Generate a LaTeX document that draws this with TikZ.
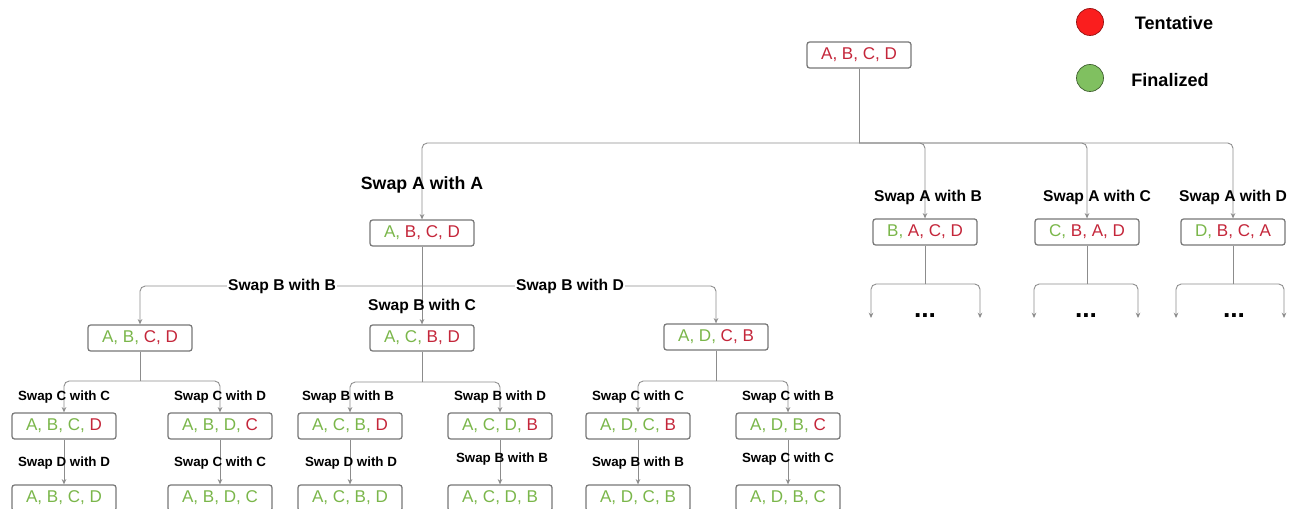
\documentclass[tikz,border=0pt]{standalone}
\usepackage{fontspec}
\setmainfont{Liberation Sans}
\usetikzlibrary{arrows.meta}
\definecolor{tred}{RGB}{196,38,58}
\definecolor{tgreen}{RGB}{122,182,74}
\definecolor{lgray}{RGB}{118,118,118}
\definecolor{cgray}{RGB}{140,140,140}
\definecolor{legred}{RGB}{250,30,30}
\definecolor{leggreen}{RGB}{128,192,96}
\newcommand\Gx[1]{\textcolor{tgreen}{#1}}
\newcommand\Rx[1]{\textcolor{tred}{#1}}
\begin{document}
\begin{tikzpicture}[x=0.02cm,y=-0.02cm,
  box/.style={draw=lgray, line width=0.7pt, rounded corners=1.5pt, minimum width=2.08cm, minimum height=0.52cm, inner sep=0pt, font=\fontsize{9.7}{11}\selectfont},
  conn/.style={draw=cgray, line width=0.5pt, rounded corners=3pt},
  arr/.style={conn, -{Stealth[length=3pt,width=2.6pt]}},
  lbig/.style={font=\bfseries\fontsize{10.1}{12}\selectfont, inner sep=1pt},
  lmid/.style={font=\bfseries\fontsize{8.9}{11}\selectfont, inner sep=1pt},
  lsmall/.style={font=\bfseries\fontsize{7.6}{9}\selectfont, inner sep=1pt},
  onl/.style={fill=white, inner sep=0.5pt},
  legtxt/.style={font=\bfseries\fontsize{10.3}{12}\selectfont, inner sep=0pt},
  dots/.style={font=\bfseries\fontsize{15}{15}\selectfont, inner sep=0pt}
]
\useasboundingbox (0,0) rectangle (1300,509);

% legend
\node[circle, fill=legred, draw=legred!60!black, line width=0.4pt, minimum size=0.54cm, inner sep=0pt] (legr) at (1090,22) {};
\node[circle, fill=leggreen, draw=leggreen!50!black, line width=0.4pt, minimum size=0.54cm, inner sep=0pt] (legg) at (1090,78) {};
\node[legtxt] (legrt) at (1174,23) {Tentative};
\node[legtxt] (leggt) at (1170,80) {Finalized};

% root
\node[box] (root) at (859,55) {\Rx{A,} \Rx{B,} \Rx{C,} \Rx{D}};

% level 1
\node[box] (n1) at (422,233) {\Gx{A,} \Rx{B,} \Rx{C,} \Rx{D}};
\node[box] (n2) at (925,232) {\Gx{B,} \Rx{A,} \Rx{C,} \Rx{D}};
\node[box] (n3) at (1087,232) {\Gx{C,} \Rx{B,} \Rx{A,} \Rx{D}};
\node[box] (n4) at (1233,232) {\Gx{D,} \Rx{B,} \Rx{C,} \Rx{A}};

% level 2
\node[box] (m1) at (140,338) {\Gx{A,} \Gx{B,} \Rx{C,} \Rx{D}};
\node[box] (m2) at (422,338) {\Gx{A,} \Gx{C,} \Rx{B,} \Rx{D}};
\node[box] (m3) at (716,337) {\Gx{A,} \Gx{D,} \Rx{C,} \Rx{B}};

% level 3
\node[box] (p1) at (64,426) {\Gx{A,} \Gx{B,} \Gx{C,} \Rx{D}};
\node[box] (p2) at (220,426) {\Gx{A,} \Gx{B,} \Gx{D,} \Rx{C}};
\node[box] (p3) at (350,426) {\Gx{A,} \Gx{C,} \Gx{B,} \Rx{D}};
\node[box] (p4) at (500,426) {\Gx{A,} \Gx{C,} \Gx{D,} \Rx{B}};
\node[box] (p5) at (638,426) {\Gx{A,} \Gx{D,} \Gx{C,} \Rx{B}};
\node[box] (p6) at (788,426) {\Gx{A,} \Gx{D,} \Gx{B,} \Rx{C}};

% level 4
\node[box] (q1) at (64,498) {\Gx{A, B, C, D}};
\node[box] (q2) at (220,498) {\Gx{A, B, D, C}};
\node[box] (q3) at (350,498) {\Gx{A, C, B, D}};
\node[box] (q4) at (500,498) {\Gx{A, C, D, B}};
\node[box] (q5) at (638,498) {\Gx{A, D, C, B}};
\node[box] (q6) at (788,498) {\Gx{A, D, B, C}};

% junction coordinates
\coordinate (b0) at (859,143);
\coordinate (a1) at (422,286);
\coordinate (c1) at (140,381);
\coordinate (c2) at (422,382);
\coordinate (c3) at (716,381);
\coordinate (s2) at (925,284);
\coordinate (s3) at (1087,284);
\coordinate (s4) at (1233,284);
\coordinate (e2l) at (871,318);
\coordinate (e2r) at (980,318);
\coordinate (e3l) at (1034,318);
\coordinate (e3r) at (1138,318);
\coordinate (e4l) at (1176,318);
\coordinate (e4r) at (1284,318);

% connectors: root
\draw[conn] (root.south) -- (b0);
\draw[arr] (b0) -| (n1.north);
\draw[arr] (b0) -| (n2.north);
\draw[arr] (b0) -| (n3.north);
\draw[arr] (b0) -| (n4.north);

% level 1 -> level 2
\draw[conn] (n1.south) -- (a1);
\draw[arr] (a1) -| (m1.north);
\draw[arr] (a1) -- (m2.north);
\draw[arr] (a1) -| (m3.north);

% right subtrees
\draw[conn] (n2.south) -- (s2);
\draw[arr] (s2) -| (e2l);
\draw[arr] (s2) -| (e2r);
\draw[conn] (n3.south) -- (s3);
\draw[arr] (s3) -| (e3l);
\draw[arr] (s3) -| (e3r);
\draw[conn] (n4.south) -- (s4);
\draw[arr] (s4) -| (e4l);
\draw[arr] (s4) -| (e4r);

% level 2 -> level 3
\draw[conn] (m1.south) -- (c1);
\draw[arr] (c1) -| (p1.north);
\draw[arr] (c1) -| (p2.north);
\draw[conn] (m2.south) -- (c2);
\draw[arr] (c2) -| (p3.north);
\draw[arr] (c2) -| (p4.north);
\draw[conn] (m3.south) -- (c3);
\draw[arr] (c3) -| (p5.north);
\draw[arr] (c3) -| (p6.north);

% level 3 -> level 4
\draw[arr] (p1.south) -- (q1.north);
\draw[arr] (p2.south) -- (q2.north);
\draw[arr] (p3.south) -- (q3.north);
\draw[arr] (p4.south) -- (q4.north);
\draw[arr] (p5.south) -- (q5.north);
\draw[arr] (p6.south) -- (q6.north);

% labels
\node[lbig] (l1) at (422,185) {Swap A with A};
\node[lmid] (l2) at (928,197) {Swap A with B};
\node[lmid] (l3) at (1097,197) {Swap A with C};
\node[lmid] (l4) at (1233,197) {Swap A with D};
\node[lmid,onl] (k1) at (282,286) {Swap B with B};
\node[lmid] (k2) at (422,306) {Swap B with C};
\node[lmid,onl] (k3) at (570,286) {Swap B with D};
\node[lsmall] (j1) at (64,397) {Swap C with C};
\node[lsmall] (j2) at (220,397) {Swap C with D};
\node[lsmall] (j3) at (348,397) {Swap B with B};
\node[lsmall] (j4) at (500,397) {Swap B with D};
\node[lsmall] (j5) at (638,397) {Swap C with C};
\node[lsmall] (j6) at (788,397) {Swap C with B};
\node[lsmall] (h1) at (64,463) {Swap D with D};
\node[lsmall] (h2) at (220,463) {Swap C with C};
\node[lsmall] (h3) at (351,463) {Swap D with D};
\node[lsmall] (h4) at (502,459) {Swap B with B};
\node[lsmall] (h5) at (638,463) {Swap B with B};
\node[lsmall] (h6) at (788,459) {Swap C with C};

% dots
\node[dots] (d2) at (925,316) {...};
\node[dots] (d3) at (1086,316) {...};
\node[dots] (d4) at (1234,316) {...};
\end{tikzpicture}
\end{document}
